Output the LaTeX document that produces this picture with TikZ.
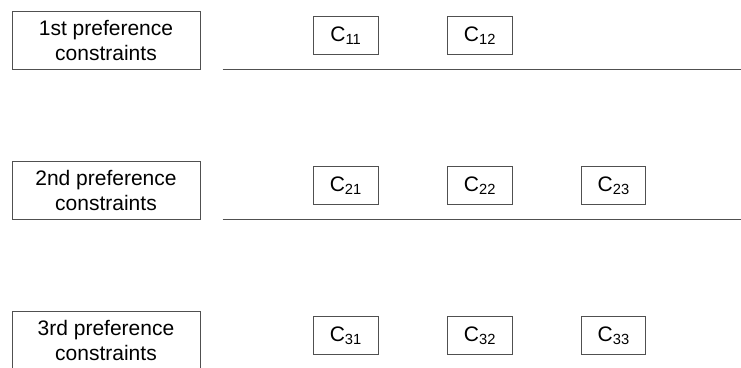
\documentclass[tikz,border=0pt]{standalone}
\usepackage{fontspec}
\setmainfont{Liberation Sans}
\definecolor{edge}{RGB}{80,80,80}
\begin{document}
\begin{tikzpicture}[x=1pt,y=-1pt,
  every node/.style={inner sep=0pt,outer sep=0pt},
  labelbox/.style={draw=edge,line width=1pt,minimum width=188pt,minimum height=57.6pt,
    align=center,font=\fontsize{21}{25}\selectfont},
  cbox/.style={draw=edge,line width=1pt,minimum width=64.5pt,minimum height=38.3pt,
    font=\fontsize{21}{25}\selectfont},
  rule/.style={draw=edge,line width=1pt}]
\clip (0,0) rectangle (741,367);
\useasboundingbox (0,0) rectangle (741,367);
\fill[white] (0,0) rectangle (741,367);

% preference levels
\node[labelbox] (l1) at (106,40.5) {1st preference\\constraints};
\node[labelbox] (l2) at (106,190.5) {2nd preference\\constraints};
\node[labelbox] (l3) at (106,340.5) {3rd preference\\constraints};

% constraints of each level
\node[cbox] (c11) at (345.8,35.8) {C\textsubscript{11}};
\node[cbox] (c12) at (480,35.8) {C\textsubscript{12}};
\node[cbox] (c21) at (345.8,185.8) {C\textsubscript{21}};
\node[cbox] (c22) at (480,185.8) {C\textsubscript{22}};
\node[cbox] (c23) at (613.7,185.8) {C\textsubscript{23}};
\node[cbox] (c31) at (345.8,335.8) {C\textsubscript{31}};
\node[cbox] (c32) at (480,335.8) {C\textsubscript{32}};
\node[cbox] (c33) at (613.7,335.8) {C\textsubscript{33}};

% separators between levels
\coordinate (s1a) at (222.7,69.5);
\coordinate (s1b) at (741,69.5);
\coordinate (s2a) at (222.7,219.5);
\coordinate (s2b) at (741,219.5);
\draw[rule] (s1a) -- (s1b);
\draw[rule] (s2a) -- (s2b);
\end{tikzpicture}
\end{document}
